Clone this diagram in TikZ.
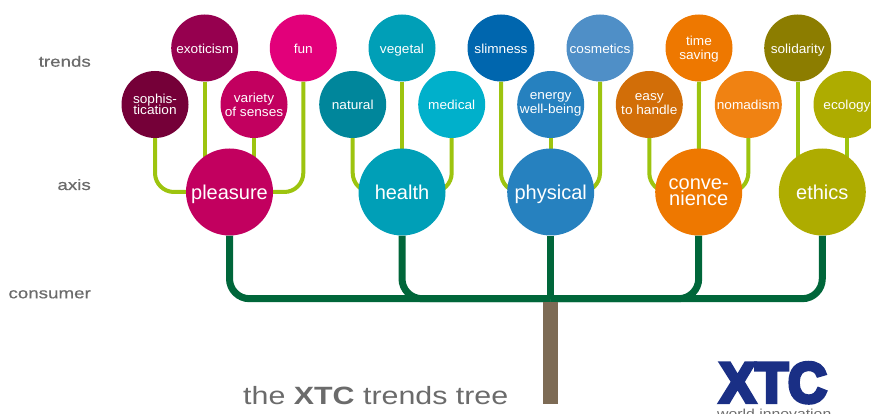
\documentclass[tikz,border=0pt]{standalone}
\usepackage{fontspec}
\setmainfont{Liberation Sans}
\newfontfamily\logofont[FakeBold=7]{Liberation Sans Bold}
\newfontfamily\leaffont[FakeStretch=1.05]{Liberation Sans}
\newfontfamily\wideregular[FakeStretch=1.215]{Liberation Sans}
\newfontfamily\widelabel[FakeStretch=1.25,FakeBold=0.6]{Liberation Sans}
\usetikzlibrary{backgrounds}
\definecolor{cSoph}{HTML}{750038}
\definecolor{cExo}{HTML}{96004F}
\definecolor{cVar}{HTML}{C2005F}
\definecolor{cFun}{HTML}{E2007A}
\definecolor{cNat}{HTML}{00869B}
\definecolor{cHea}{HTML}{009FB7}
\definecolor{cMed}{HTML}{00B0CB}
\definecolor{cSli}{HTML}{0066AE}
\definecolor{cPhy}{HTML}{2681BF}
\definecolor{cCos}{HTML}{4F8FC7}
\definecolor{cEas}{HTML}{D26E08}
\definecolor{cCon}{HTML}{EE7800}
\definecolor{cNom}{HTML}{F08212}
\definecolor{cSol}{HTML}{8C7D00}
\definecolor{cEth}{HTML}{AEAC00}
\definecolor{cLime}{HTML}{9DC40F}
\definecolor{cBar}{HTML}{00663A}
\definecolor{cTrunk}{HTML}{7D6B55}
\definecolor{cLabel}{HTML}{6B6B6B}
\definecolor{cLogo}{HTML}{1A2F85}
\tikzset{
  leaf/.style={circle,minimum size=67pt,inner sep=0pt,align=center,text=white,font=\leaffont\fontsize{13}{14}\selectfont},
  hub/.style={circle,minimum size=87pt,inner sep=0pt,align=center,text=white,font=\fontsize{20}{22}\selectfont},
  leafone/.style={leaf,text height=11.5pt,text depth=0.5pt},
  hubone/.style={hub,text height=17pt,text depth=2pt},
  twig/.style={draw=cLime,line width=4pt,rounded corners=19pt},
  branch/.style={draw=cBar,line width=7pt,rounded corners=20pt},
  rowlabel/.style={anchor=base east,inner sep=0pt,text=cLabel,font=\widelabel\fontsize{15}{15}\selectfont},
}
\begin{document}
\begin{tikzpicture}[x=1pt,y=-1pt]
\useasboundingbox (0,0) rectangle (871,414);
\clip (0,0) rectangle (871,414);
\node[leaf,fill=cSoph] (soph) at (155,104.5) {sophis-\\[-3pt]tication};
\node[leafone,fill=cExo] (exo) at (204.7,48) {exoticism};
\node[leaf,fill=cVar] (var) at (254,104.5) {variety\\of senses};
\node[leafone,fill=cFun] (fun) at (303.3,48) {fun};
\node[hubone,fill=cVar] (pleasure) at (229.5,192) {pleasure};
\node[leafone,fill=cNat] (nat) at (352.7,104.5) {natural};
\node[leafone,fill=cHea] (veg) at (402,48) {vegetal};
\node[leafone,fill=cMed] (med) at (451.7,104.5) {medical};
\node[hubone,fill=cHea] (health) at (402,192) {health};
\node[leafone,fill=cSli] (sli) at (501,48) {slimness};
\node[leaf,fill=cPhy] (ene) at (550.7,104.5) {energy\\well-being};
\node[leafone,fill=cCos] (cos) at (600,48) {cosmetics};
\node[hubone,fill=cPhy] (physical) at (550.7,192) {physical};
\node[leaf,fill=cEas] (eas) at (649.3,104.5) {easy\\to handle};
\node[leaf,fill=cCon,text depth=0pt] (tim) at (699,48) {time\\saving};
\node[leafone,fill=cNom] (nom) at (748.3,104.5) {nomadism};
\node[hub,fill=cCon,text depth=-7pt] (conv) at (698.7,192) {conve-\\[-6pt]nience};
\node[leafone,fill=cSol] (sol) at (797.7,48) {solidarity};
\node[leafone,fill=cEth] (eco) at (847,104.5) {ecology};
\node[hubone,fill=cEth] (ethics) at (822.3,192) {ethics};
\node[fill=cTrunk,minimum width=14.4pt,minimum height=102pt,inner sep=0pt] (trunk) at (550.5,353) {};
\coordinate (fork) at (550.7,298.7);
\begin{scope}[on background layer]
\draw[twig] (soph.south) |- (pleasure.center);
\draw[twig] (exo.south) -- (exo.south |- pleasure.center);
\draw[twig] (var.south) -- (var.south |- pleasure.center);
\draw[twig] (fun.south) |- (pleasure.center);
\draw[twig] (nat.south) |- (health.center);
\draw[twig] (veg.south) -- (health.center);
\draw[twig] (med.south) |- (health.center);
\draw[twig] (sli.south) |- (physical.center);
\draw[twig] (ene.south) -- (physical.center);
\draw[twig] (cos.south) |- (physical.center);
\draw[twig] (eas.south) |- (conv.center);
\draw[twig] (tim.south) -- (conv.center);
\draw[twig] (nom.south) |- (conv.center);
\draw[twig] (sol.south) -- (sol.south |- ethics.center);
\draw[twig] (eco.south) -- (eco.south |- ethics.center);
\draw[branch] (pleasure.south) |- (fork);
\draw[branch] (health.south) |- (fork);
\draw[branch] (conv.south) |- (fork);
\draw[branch] (ethics.south) |- (fork);
\draw[branch] (physical.south) -- (fork);
\end{scope}
\node[rowlabel] (ltrends) at (91,66.7) {trends};
\node[rowlabel] (laxis) at (91,190) {axis};
\node[rowlabel] (lconsumer) at (91,298.3) {consumer};
\node[anchor=base west,inner sep=0pt,text=cLabel,font=\wideregular\fontsize{25}{25}\selectfont] (title) at (243,404.3) {the \textbf{XTC} trends tree};
\node[anchor=south west,inner sep=0pt,text=cLogo] (logo) at (719.5,403) {\resizebox{107pt}{39.5pt}{\logofont XTC}};
\node[anchor=north west,inner sep=0pt,text=cLabel,font=\wideregular\fontsize{13}{14}\selectfont] (world) at (717,408.5) {world innovation};
\end{tikzpicture}
\end{document}
